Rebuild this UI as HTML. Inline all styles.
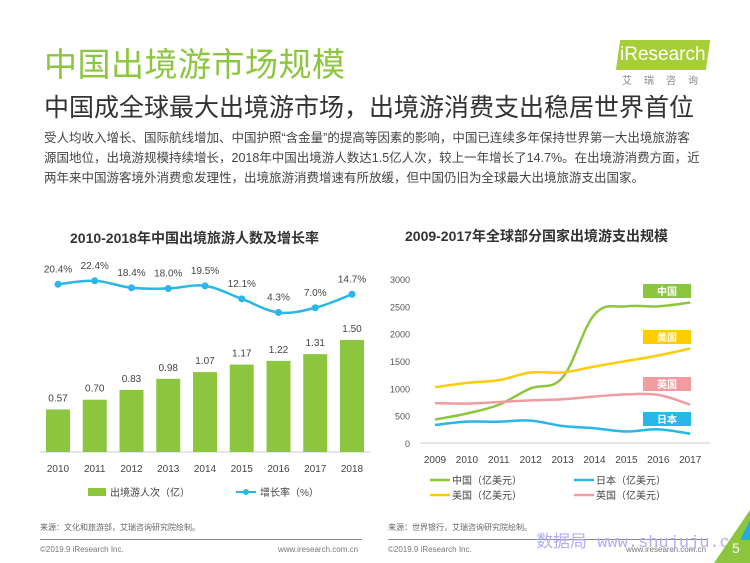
<!DOCTYPE html>
<html><head><meta charset="utf-8"><style>
body{margin:0;width:750px;height:563px;overflow:hidden;background:#fff;font-family:"Liberation Sans","Noto Sans CJK SC",sans-serif;position:relative}
.a{position:absolute;white-space:nowrap}
</style></head><body>
<div class="a" style="left:44px;top:38px;font-size:33px;color:#8cc63f;letter-spacing:0.5px">中国出境游市场规模</div>
<div class="a" style="left:618px;top:40px;width:90px;height:30px;background:#a6ce39;transform:skewX(-8deg)"></div>
<div class="a" style="left:620px;top:44px;font-size:19px;color:#fff">iResearch</div>
<div class="a" style="left:622px;top:72px;font-size:10px;color:#888;letter-spacing:12px">艾瑞咨询</div>
<div class="a" style="left:44px;top:88px;font-size:25px;color:#333">中国成全球最大出境游市场，出境游消费支出稳居世界首位</div>
<div class="a" style="left:44px;top:128px;font-size:12.5px;color:#444;line-height:20px">受人均收入增长、国际航线增加、中国护照“含金量”的提高等因素的影响，中国已连续多年保持世界第一大出境旅游客<br>源国地位，出境游规模持续增长，2018年中国出境游人数达1.5亿人次，较上一年增长了14.7%。在出境游消费方面，近<br>两年来中国游客境外消费愈发理性，出境旅游消费增速有所放缓，但中国仍旧为全球最大出境旅游支出国家。</div>
<div class="a" style="left:70px;top:228px;font-size:14px;font-weight:bold;color:#333">2010-2018年中国出境旅游人数及增长率</div>
<div class="a" style="left:405px;top:226px;font-size:14px;font-weight:bold;color:#333">2009-2017年全球部分国家出境游支出规模</div>
<svg class="a" style="left:0;top:0" width="750" height="563" id="s"></svg>
<div class="a" style="left:40px;top:522px;font-size:8px;color:#666">来源：文化和旅游部，艾瑞咨询研究院绘制。</div>
<div class="a" style="left:388px;top:522px;font-size:8px;color:#666">来源：世界银行，艾瑞咨询研究院绘制。</div>
<div class="a" style="left:40px;top:539px;width:322px;height:1px;background:#888"></div>
<div class="a" style="left:388px;top:539px;width:320px;height:1px;background:#888"></div>
<div class="a" style="left:40px;top:545px;font-size:8px;color:#777">©2019.9 iResearch Inc.</div>
<div class="a" style="left:278px;top:545px;font-size:8px;color:#777">www.iresearch.com.cn</div>
<div class="a" style="left:388px;top:545px;font-size:8px;color:#777">©2019.9 iResearch Inc.</div>
<div class="a" style="left:626px;top:545px;font-size:8px;color:#777">www.iresearch.com.cn</div>
<div class="a" style="left:536px;top:527px;font-size:17px;color:#b0b0f0;font-family:'Liberation Mono','Noto Sans CJK SC',monospace">数据局 www.shujuju.cn</div>
<svg class="a" style="left:700px;top:510px" width="50" height="53"><polygon points="50,0 50,53 14,53" fill="#8cc63f"/><polygon points="50,10 50,30 40,30" fill="#29abe2"/></svg>
<div class="a" style="left:732px;top:540px;font-size:14px;color:#fff">5</div>
<script>
const years=['2010','2011','2012','2013','2014','2015','2016','2017','2018'];
const travelers=[0.57,0.70,0.83,0.98,1.07,1.17,1.22,1.31,1.50];
const growth=[20.4,22.4,18.4,18.0,19.5,12.1,4.3,7.0,14.7];
const years2=['2009','2010','2011','2012','2013','2014','2015','2016','2017'];
const china=[430,540,700,1000,1200,2350,2500,2500,2570];
const usa=[1020,1100,1150,1290,1290,1400,1500,1600,1730];
const uk=[730,720,750,780,800,850,890,880,700];
const japan=[330,390,390,410,310,270,210,250,170];
const yTicks=[0,500,1000,1500,2000,2500,3000];
const s=document.getElementById('s');const NS='http://www.w3.org/2000/svg';
function el(t,a,txt){const e=document.createElementNS(NS,t);for(const k in a)e.setAttribute(k,a[k]);if(txt!==undefined)e.textContent=txt;s.appendChild(e);return e;}
const F='"Liberation Sans","Noto Sans CJK SC",sans-serif';
const bx=i=>58+i*36.75, by=v=>452-v*74.7, gy=v=>320-v*1.75;
let e=el('line',{x1:40,x2:370,y1:452,y2:452,stroke:'#ccc'});

travelers.forEach((v,i)=>{
 e=el('rect',{x:bx(i)-12,y:by(v),width:24,height:452-by(v),fill:'#8cc63f'});
 
 e=el('text',{x:bx(i),y:by(v)-8,'text-anchor':'middle','font-size':10,fill:'#444','font-family':F},v.toFixed(2));
 
 e=el('text',{x:bx(i),y:472,'text-anchor':'middle','font-size':10,fill:'#444','font-family':F},years[i]);
 
});
function smooth(pts){let d='M'+pts[0][0]+','+pts[0][1];for(let i=0;i<pts.length-1;i++){const p0=pts[Math.max(i-1,0)],p1=pts[i],p2=pts[i+1],p3=pts[Math.min(i+2,pts.length-1)];const t=0.18;d+=' C'+(p1[0]+(p2[0]-p0[0])*t)+','+(p1[1]+(p2[1]-p0[1])*t)+' '+(p2[0]-(p3[0]-p1[0])*t)+','+(p2[1]-(p3[1]-p1[1])*t)+' '+p2[0]+','+p2[1];}return d;}
e=el('path',{d:smooth(growth.map((v,i)=>[bx(i),gy(v)])),fill:'none',stroke:'#29b6e8','stroke-width':2.5});

growth.forEach((v,i)=>{
 e=el('circle',{cx:bx(i),cy:gy(v),r:3.5,fill:'#29b6e8'});
 
 e=el('text',{x:bx(i),y:gy(v)-12,'text-anchor':'middle','font-size':10,fill:'#444','font-family':F},v.toFixed(1)+'%');
 
});
e=el('rect',{x:88,y:488,width:18,height:8,fill:'#8cc63f'});
e=el('text',{x:110,y:496,'font-size':10,fill:'#444','font-family':F},'出境游人次（亿）');
e=el('line',{x1:236,x2:256,y1:492,y2:492,stroke:'#29b6e8','stroke-width':2});
e=el('circle',{cx:246,cy:492,r:3,fill:'#29b6e8'});
e=el('text',{x:260,y:496,'font-size':10,fill:'#444','font-family':F},'增长率（%）');
const rx=i=>435+i*31.9, ry=v=>443-v*164/3000;
e=el('line',{x1:420,x2:710,y1:443,y2:443,stroke:'#ccc'});
yTicks.forEach(t=>{e=el('text',{x:410,y:ry(t)+4,'text-anchor':'end','font-size':9,fill:'#555','font-family':F},t);});
years2.forEach((y,i)=>{e=el('text',{x:rx(i),y:463,'text-anchor':'middle','font-size':10,fill:'#444','font-family':F},y);});
const series=[['china',china,'#8cc63f'],['usa',usa,'#ffcc00'],['uk',uk,'#f19ca0'],['japan',japan,'#29b6e8']];
series.forEach(([n,d,c])=>{e=el('path',{d:smooth(d.map((v,i)=>[rx(i),ry(v)])),fill:'none',stroke:c,'stroke-width':2.5});});
const tags=[['中国','#8cc63f',284],['美国','#ffcc00',330],['英国','#f19ca0',377],['日本','#29b6e8',412]];
tags.forEach(([t,c,y])=>{e=el('rect',{x:643,y:y,width:48,height:14,fill:c});
 e=el('text',{x:667,y:y+11,'text-anchor':'middle','font-size':10,'font-weight':'bold',fill:'#fff','font-family':F},t);});
const leg=[['中国（亿美元）','#8cc63f',430,480],['日本（亿美元）','#29b6e8',574,480],['美国（亿美元）','#ffcc00',430,495],['英国（亿美元）','#f19ca0',574,495]];
leg.forEach(([t,c,x,y])=>{e=el('line',{x1:x,x2:x+20,y1:y,y2:y,stroke:c,'stroke-width':2.5});
 e=el('text',{x:x+22,y:y+4,'font-size':10,fill:'#444','font-family':F},t);});
</script>
</body></html>
